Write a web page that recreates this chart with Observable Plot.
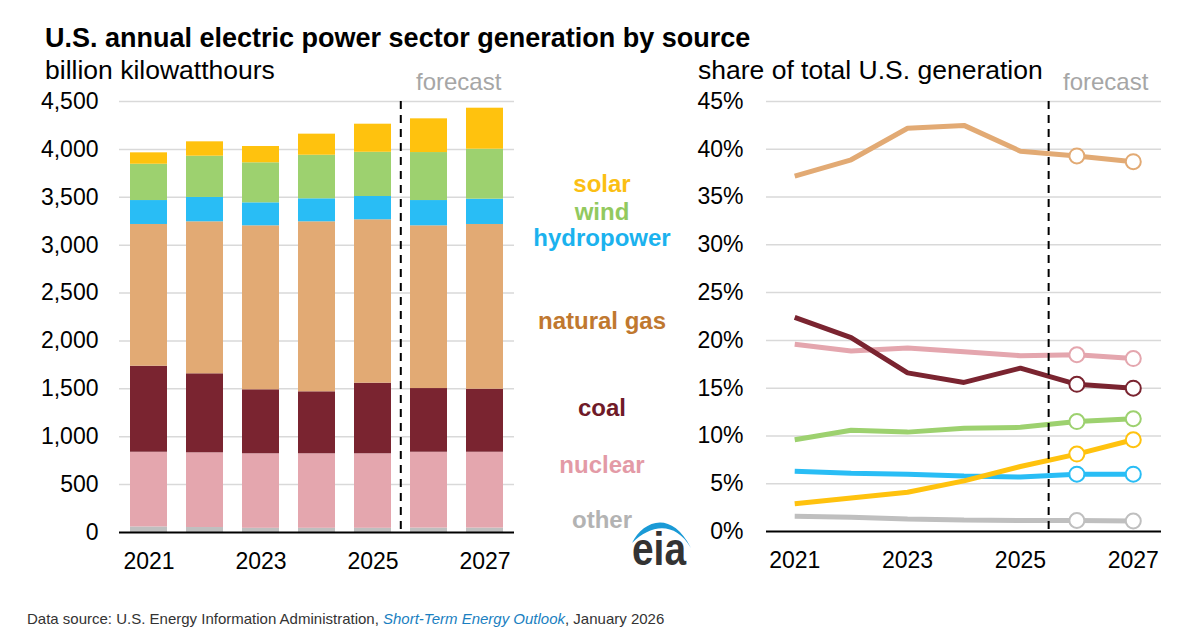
<!DOCTYPE html>
<html>
<head>
<meta charset="utf-8">
<script src="https://cdn.jsdelivr.net/npm/d3@7"></script>
<script src="https://cdn.jsdelivr.net/npm/@observablehq/plot@0.6"></script>
<style>
  html, body { margin: 0; padding: 0; width: 1200px; height: 630px; overflow: hidden; background: #fff; }
  #wrap { position: relative; width: 1200px; height: 630px; font-family: "Liberation Sans", Arial, sans-serif; }
  #left, #right, #overlay { position: absolute; top: 0; }
  #left { left: 0; }
  #right { left: 600px; }
  #overlay { left: 0; pointer-events: none; }
</style>
</head>
<body>
<div id="wrap">
  <div id="left"></div>
  <div id="right"></div>
  <svg id="overlay" width="1200" height="630"></svg>
</div>
<script>
// ---- data ----
const years = [2021, 2022, 2023, 2024, 2025, 2026, 2027];
const forecastYears = [2026, 2027];
const yearTicks = [2021, 2023, 2025, 2027];

// stacking order, bottom to top
const sources = ["other", "nuclear", "coal", "natural gas", "hydropower", "wind", "solar"];
const sourceColors = ["#bfbfbf", "#e4a6ae", "#7a2430", "#e2aa74", "#29bdf5", "#9dd16f", "#ffc20e"];
const labelColors = ["#b3b3b3", "#e39aa6", "#6f1a28", "#c0782f", "#1bb2ee", "#92c95e", "#fbbf14"];

// generation, billion kilowatthours
const otherGen   = [58, 52, 44, 44, 44, 46, 46];
const nuclearGen = [780, 780, 778, 778, 778, 792, 792];
const coalGen    = [898, 825, 668, 647, 737, 665, 658];
const gasGen     = [1480, 1587, 1712, 1775, 1706, 1699, 1720];
const hydroGen   = [250, 254, 240, 240, 243, 264, 264];
const windGen    = [379, 431, 418, 455, 462, 501, 522];
const solarGen   = [119, 150, 170, 220, 293, 352, 428];
const genTicks = [0, 500, 1000, 1500, 2000, 2500, 3000, 3500, 4000, 4500];

// share of total U.S. generation, percent
const otherShare   = [1.6, 1.5, 1.3, 1.2, 1.15, 1.15, 1.1];
const nuclearShare = [19.6, 18.9, 19.2, 18.8, 18.4, 18.5, 18.1];
const coalShare    = [22.4, 20.3, 16.6, 15.6, 17.1, 15.4, 15.0];
const gasShare     = [37.2, 38.9, 42.2, 42.5, 39.8, 39.3, 38.7];
const hydroShare   = [6.3, 6.1, 6.0, 5.8, 5.7, 6.0, 6.0];
const windShare    = [9.6, 10.6, 10.4, 10.8, 10.9, 11.5, 11.8];
const solarShare   = [2.9, 3.5, 4.1, 5.3, 6.8, 8.1, 9.6];
const shareTicks = [0, 5, 10, 15, 20, 25, 30, 35, 40, 45];

// ---- tidy tables ----
const genBySource = {
  "other": otherGen, "nuclear": nuclearGen, "coal": coalGen, "natural gas": gasGen,
  "hydropower": hydroGen, "wind": windGen, "solar": solarGen
};
const shareBySource = {
  "other": otherShare, "nuclear": nuclearShare, "coal": coalShare, "natural gas": gasShare,
  "hydropower": hydroShare, "wind": windShare, "solar": solarShare
};
const genRows = sources.flatMap(s => years.map((year, i) => ({year, source: s, value: genBySource[s][i]})));
// line drawing order (later series paint over earlier ones)
const lineOrder = ["other", "nuclear", "hydropower", "wind", "solar", "coal", "natural gas"];
const shareRows = lineOrder.flatMap(s => years.map((year, i) => ({year, source: s, share: shareBySource[s][i]})));

const font = "'Liberation Sans', Arial, Helvetica, sans-serif";
const baseStyle = {fontFamily: font, fontSize: "23px", color: "#000", background: "transparent", overflow: "visible"};
const dashed = {stroke: "#000", strokeWidth: 2, strokeDasharray: "8,6"};
const gridStyle = {stroke: "#d9d9d9", strokeWidth: 1.5};

// ---- left: stacked generation bars ----
const LW = 530, LH = 600;
const LM = {top: 101, right: 16, bottom: 68, left: 119};
const bandStep = (LW - LM.left - LM.right) / years.length;

const left = Plot.plot({
  width: LW, height: LH,
  marginTop: LM.top, marginRight: LM.right, marginBottom: LM.bottom, marginLeft: LM.left,
  style: baseStyle,
  x: {type: "band", domain: years, paddingInner: 0.34, paddingOuter: 0.17,
      ticks: yearTicks, tickFormat: d => String(d), tickSize: 0, tickPadding: 20, label: null},
  y: {domain: [0, 4500], ticks: genTicks, tickFormat: d3.format(","), tickSize: 0, tickPadding: 21, label: null},
  color: {domain: sources, range: sourceColors},
  marks: [
    Plot.ruleY(genTicks.slice(1), gridStyle),
    Plot.barY(genRows, {x: "year", y: "value", fill: "source", order: sources}),
    Plot.ruleY([0], {stroke: "#000", strokeWidth: 2}),
    // forecast divider sits halfway between the last actual and first forecast year
    Plot.ruleX([forecastYears[0]], {...dashed, dx: -bandStep / 2})
  ]
});
document.getElementById("left").appendChild(left);

// ---- right: share lines ----
const RW = 600, RH = 600;
const RM = {top: 101, right: 39, bottom: 69, left: 166};
const forecastBoundary = forecastYears[0] - 0.5;

const right = Plot.plot({
  width: RW, height: RH,
  marginTop: RM.top, marginRight: RM.right, marginBottom: RM.bottom, marginLeft: RM.left,
  style: baseStyle,
  x: {domain: [years[0] - 0.5, years[years.length - 1] + 0.5],
      ticks: yearTicks, tickFormat: d => String(d), tickSize: 0, tickPadding: 20, label: null},
  y: {domain: [0, 45], ticks: shareTicks, tickFormat: d => d + "%", tickSize: 0, tickPadding: 23, label: null},
  color: {domain: sources, range: sourceColors},
  marks: [
    Plot.ruleY(shareTicks.slice(1), gridStyle),
    Plot.ruleY([0], {stroke: "#000", strokeWidth: 2}),
    Plot.line(shareRows, {x: "year", y: "share", z: "source", stroke: "source", strokeWidth: 5,
                          strokeLinejoin: "miter", strokeLinecap: "butt"}),
    Plot.ruleX([forecastBoundary], dashed),
    Plot.dot(shareRows.filter(d => forecastYears.includes(d.year)),
             {x: "year", y: "share", stroke: "source", fill: "white", r: 7.5, strokeWidth: 2})
  ]
});
document.getElementById("right").appendChild(right);

// ---- titles, labels, logo, source line ----
const svg = d3.select("#overlay").style("font-family", font);

function label(x, y, text, opts = {}) {
  return svg.append("text")
    .attr("x", x).attr("y", y)
    .attr("font-size", opts.size || 26)
    .attr("font-weight", opts.weight || "normal")
    .attr("fill", opts.fill || "#000")
    .attr("text-anchor", opts.anchor || "start")
    .text(text);
}

label(45, 47, "U.S. annual electric power sector generation by source", {size: 27, weight: "bold"});
label(45, 79, "billion kilowatthours", {size: 26.5});
label(698, 79, "share of total U.S. generation", {size: 26.5});
label(416, 90, "forecast", {size: 24, fill: "#a6a6a6"});
label(1063, 90, "forecast", {size: 24, fill: "#a6a6a6"});

// series key between the two panels
const keyBaselines = {"solar": 192, "wind": 220, "hydropower": 246, "natural gas": 329,
                      "coal": 416, "nuclear": 473, "other": 528};
sources.forEach((s, i) => {
  label(602, keyBaselines[s], s, {size: 24, weight: "bold", fill: labelColors[i], anchor: "middle"});
});

// eia logo
const logo = svg.append("g").attr("transform", "translate(625,505)");
logo.append("path")
  .attr("d", "M7,38 C18,16 46,4 66,43 C50,16 26,19 7,38 Z")
  .attr("fill", "#1a9ad6");
logo.append("text")
  .attr("x", 7).attr("y", 60)
  .attr("font-size", 46).attr("font-weight", "bold")
  .attr("fill", "#333")
  .attr("textLength", 54).attr("lengthAdjust", "spacingAndGlyphs")
  .text("eia");

// source line along the bottom edge
const src = svg.append("text").attr("x", 27).attr("y", 624).attr("font-size", 15).attr("fill", "#333");
src.append("tspan").text("Data source: U.S. Energy Information Administration, ");
src.append("tspan").attr("font-style", "italic").attr("fill", "#1a7fc1").text("Short-Term Energy Outlook");
src.append("tspan").text(", January 2026");
</script>
</body>
</html>
